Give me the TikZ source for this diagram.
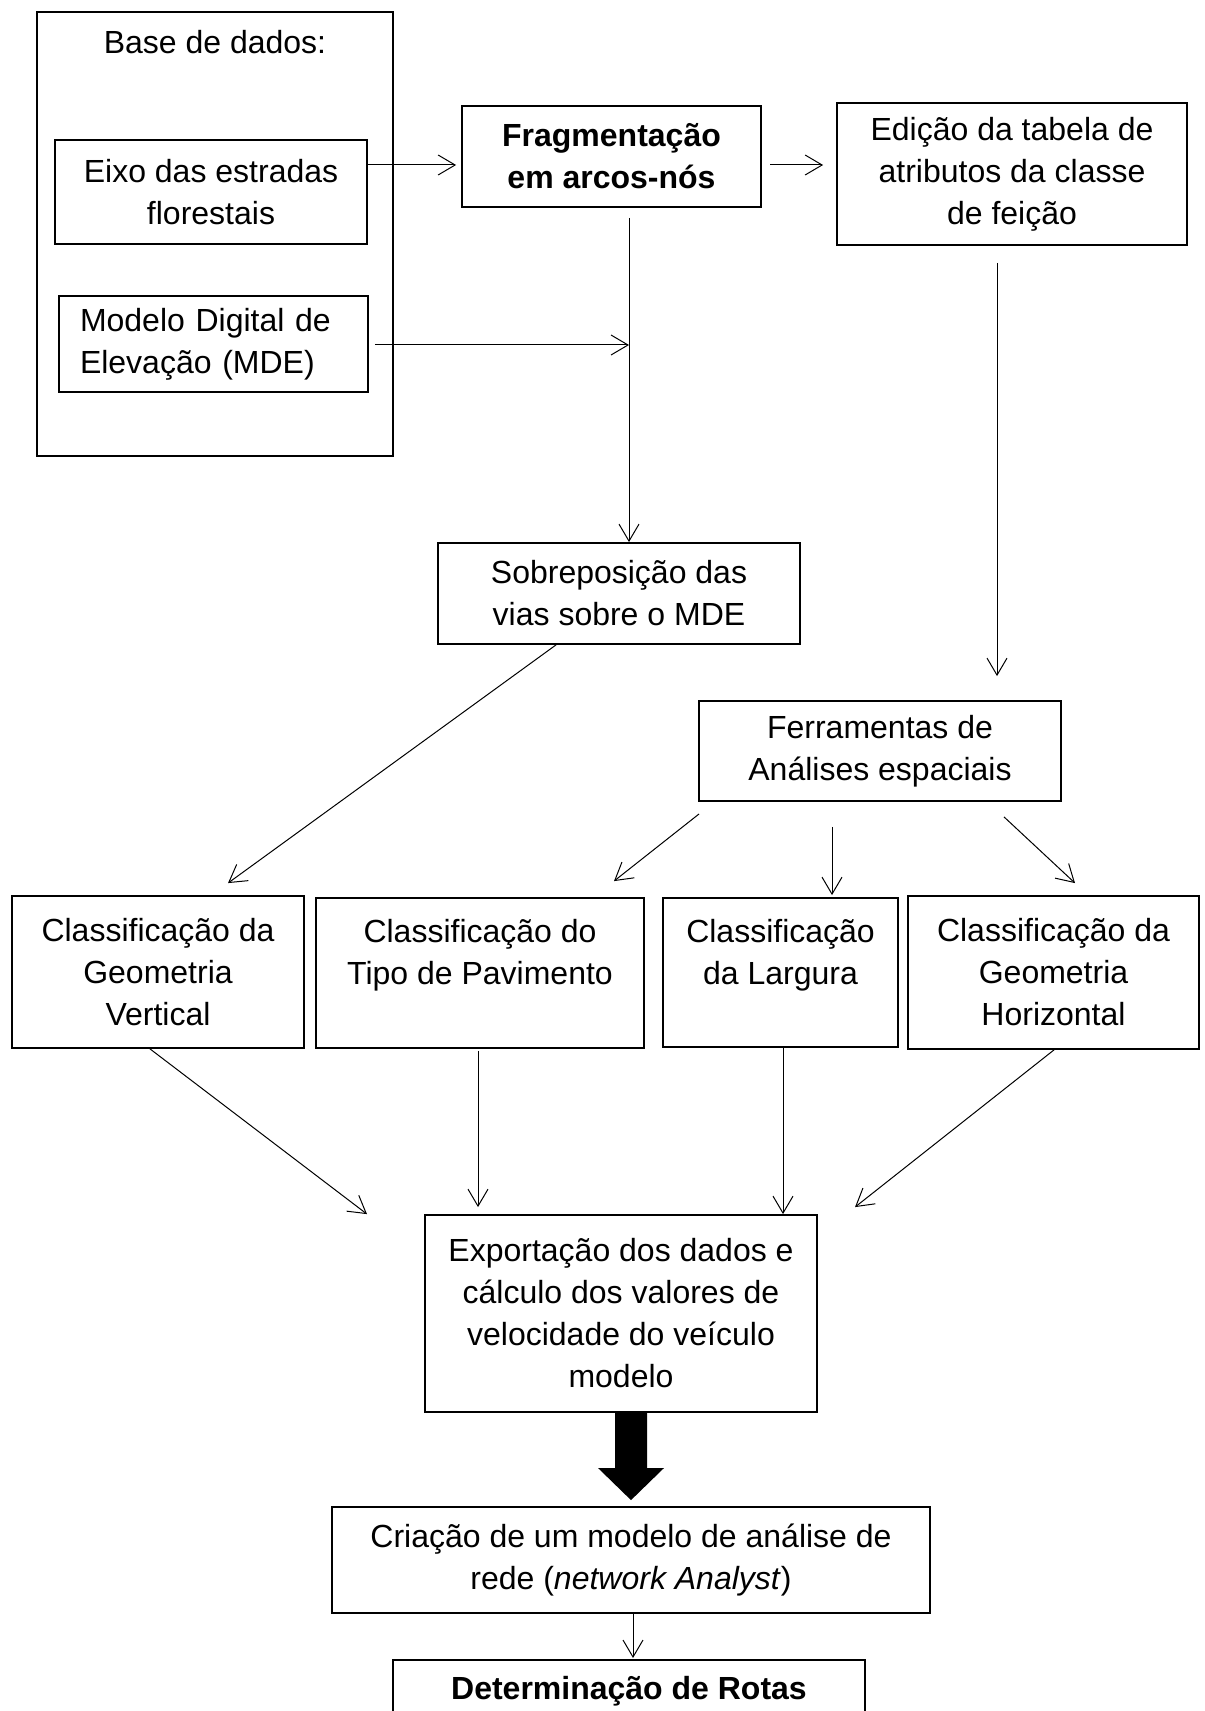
\documentclass[tikz,border=0pt]{standalone}
\usepackage{fontspec}
\setmainfont{Liberation Sans}
\usetikzlibrary{arrows.meta,calc}
\newcommand\myfs{\fontsize{16pt}{21pt}\selectfont}
\tikzset{
  box/.style={draw, line width=0.9pt, rectangle, inner sep=0pt, align=center, font=\myfs},
  arr/.style={-{Straight Barb[length=8.5pt,width=10pt]}, line width=0.5pt}
}
\begin{document}
\begin{tikzpicture}[x=0.5pt,y=-0.5pt]
\useasboundingbox (0,0) rectangle (1204,1711);
\fill[white] (0,0) rectangle (1204,1711);
\clip (0,0) rectangle (1204,1711);

% nodes
\node[box, minimum width=178pt, minimum height=222pt] (base) at (215,234) {};
\node[font=\myfs, inner sep=0pt] (baselbl) at (215,42) {Base de dados:};
\node[box, minimum width=156pt, minimum height=52pt] (eixo) at (211,192) {Eixo das estradas\\florestais};
\node[box, minimum width=154.5pt, minimum height=48pt, text width=133.5pt, align=left] (mde) at (213.5,344) {Modelo Digital de\\Elevação (MDE)};
\node[box, minimum width=149.5pt, minimum height=50.5pt, font=\myfs\bfseries] (frag) at (611.5,156.5) {Fragmentação\\em arcos-nós};
\node[box, minimum width=175pt, minimum height=71pt] (edicao) at (1012,174) {Edição da tabela de\\atributos da classe\\de feição};
\node[box, minimum width=181pt, minimum height=50.5pt] (sobrep) at (619,593.5) {Sobreposição das\\vias sobre o MDE};
\node[box, minimum width=181pt, minimum height=50pt] (ferr) at (880,751) {Ferramentas de\\Análises espaciais};
\node[box, minimum width=146pt, minimum height=76pt] (cvert) at (158,972) {Classificação da\\Geometria\\Vertical};
\node[box, minimum width=164pt, minimum height=75pt] (ctipo) at (480,973) {Classificação do\\Tipo de Pavimento\\\mbox{}};
\node[box, minimum width=117.5pt, minimum height=74.5pt] (clarg) at (780.5,972.5) {Classificação\\da Largura\\\mbox{}};
\node[box, minimum width=145.5pt, minimum height=76.5pt] (choriz) at (1053.5,972.5) {Classificação da\\Geometria\\Horizontal};
\node[box, minimum width=196pt, minimum height=98.5pt] (export) at (621,1313.5) {Exportação dos dados e\\cálculo dos valores de\\velocidade do veículo\\modelo};
\node[box, minimum width=299pt, minimum height=53pt] (criacao) at (631,1560) {Criação de um modelo de análise de\\rede (\textit{network Analyst})};
\node[box, minimum width=236pt, minimum height=31pt, anchor=north, font=\myfs\bfseries] (determ) at (629,1659) {Determinação de Rotas};

% connectors
\coordinate (j) at (629,345);
\draw[arr, shorten >=2.5pt] (eixo.east |- 0,165) -- (frag.west |- 0,165);
\draw[arr, shorten <=3pt] (mde.east |- j) -- (j);
\draw[arr, shorten <=5pt] (frag.south -| j) -- (sobrep.north -| j);
\draw[arr, shorten <=4.25pt, shorten >=6.5pt] (frag.east |- 0,165) -- (edicao.west |- 0,165);
\draw[arr, shorten <=8.5pt, shorten >=12pt] (edicao.south -| 997,0) -- (ferr.north -| 997,0);

\draw[arr] (sobrep.south -| 556,0) -- ($(cvert.north -| 228,0)+(0,-12)$);
\draw[arr] ($(ferr.south west)+(1,12)$) -- ($(ctipo.north -| 614,0)+(0,-16)$);
\draw[arr, shorten <=12.5pt, shorten >=1pt] (ferr.south -| 832,0) -- (clarg.north -| 832,0);
\draw[arr] ($(ferr.south -| 1004,0)+(0,15)$) -- ($(choriz.north -| 1075,0)+(0,-12)$);

\draw[arr] (cvert.south -| 150,0) -- (export.north -| 367,0);
\draw[arr, shorten <=1pt, shorten >=3.5pt] (ctipo.south -| 478,0) -- (export.north -| 478,0);
\draw[arr] (clarg.south -| 783,0) -- (export.north -| 783,0);
\draw[arr] (choriz.south -| 1054,0) -- ($(export.north -| 855,0)+(0,-7)$);

\fill (export.south -| 615,0) -- (export.south -| 647,0) -- (647,1468) -- (664,1468) -- ($(criacao.north -| 631,0)+(0,-6)$) -- (598,1468) -- (615,1468) -- cycle;
\draw[arr, shorten >=0.5pt] (criacao.south -| 633,0) -- (determ.north -| 633,0);
\end{tikzpicture}
\end{document}
